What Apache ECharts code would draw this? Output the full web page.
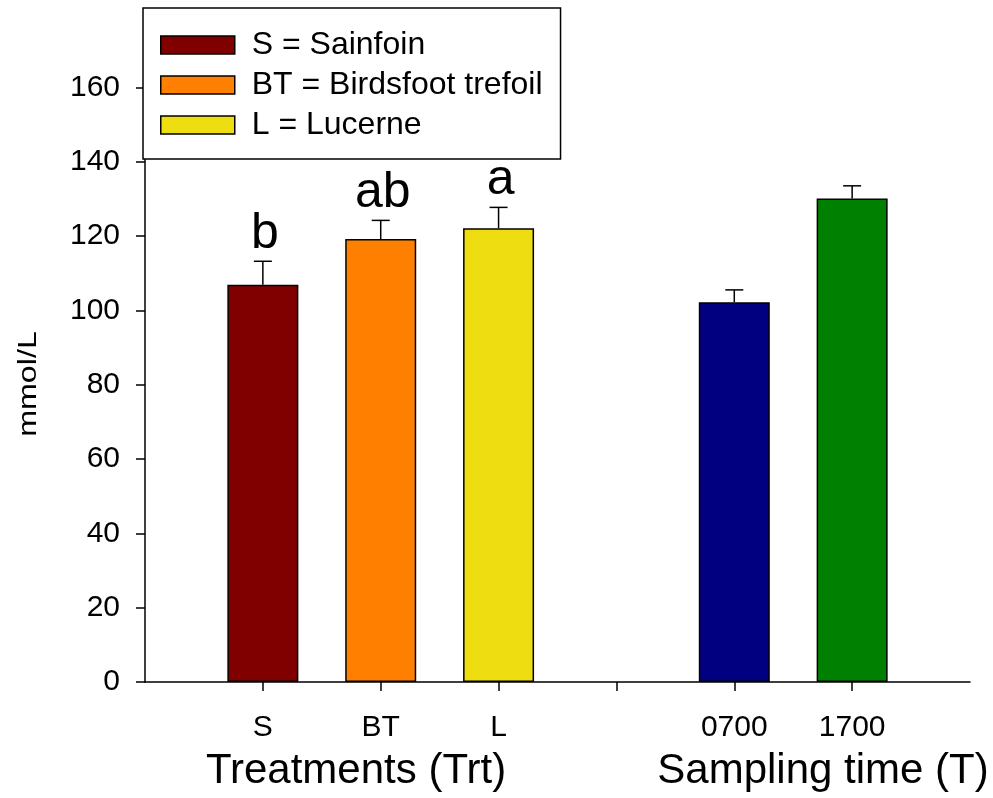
<!DOCTYPE html>
<html>
<head>
<meta charset="utf-8">
<script src="https://cdn.jsdelivr.net/npm/echarts@6/dist/echarts.min.js"></script>
<style>
html,body{margin:0;padding:0;background:#fff;}
#chart{width:993px;height:798px;}
</style>
</head>
<body>
<div id="chart"></div>
<script>
// 处理组 (Trt)
var trtLegend = ['S = Sainfoin', 'BT = Birdsfoot trefoil', 'L = Lucerne'];
var trtPos = [1, 2, 3];
var trtMean = [106.9, 119.2, 122.1];
var trtUpper = [113.2, 124.2, 127.7];
var trtLetters = ['b', 'ab', 'a'];
// 采样时间 (T)
var timePos = [5, 6];
var timeMean = [102.2, 130.1];
var timeUpper = [105.5, 133.5];
// 坐标轴刻度
var xTickPos = [1, 2, 3, 4, 5, 6];
var xLabelPos = [1, 2, 3, 5, 6];
var xLabelText = {1: 'S', 2: 'BT', 3: 'L', 5: '0700', 6: '1700'};
var yTicks = [0, 20, 40, 60, 80, 100, 120, 140, 160];

var trtColors = ['#800000', '#ff8000', '#eedd11'];
var timeColors = ['#000080', '#008000'];
var FONT = 'Liberation Sans';

var chart = echarts.init(document.getElementById('chart'));

var series = [];
for (var i = 0; i < trtLegend.length; i++) {
	series.push({
		name: trtLegend[i],
		type: 'bar',
		barWidth: 71,
		barGap: '-100%',
		itemStyle: {color: trtColors[i], borderColor: '#000', borderWidth: 1.5},
		data: [[trtPos[i], trtMean[i]]]
	});
}
series.push({
	name: 'T',
	type: 'bar',
	barWidth: 71,
	barGap: '-100%',
	data: timePos.map(function (p, k) {
		return {value: [p, timeMean[k]], itemStyle: {color: timeColors[k], borderColor: '#000', borderWidth: 1.5}};
	})
});

// 误差线 + 显著性字母
var errData = [];
for (var j = 0; j < trtPos.length; j++) errData.push([trtPos[j], trtMean[j], trtUpper[j], trtLetters[j]]);
for (var k = 0; k < timePos.length; k++) errData.push([timePos[k], timeMean[k], timeUpper[k], '']);

series.push({
	type: 'custom',
	z: 5,
	data: errData,
	renderItem: function (params, api) {
		var x = api.value(0);
		var p0 = api.coord([x, api.value(1)]);
		var p1 = api.coord([x, api.value(2)]);
		var letter = errData[params.dataIndex][3];
		var lineStyle = {stroke: '#000', lineWidth: 1.5};
		return {
			type: 'group',
			children: [
				{type: 'line', shape: {x1: p0[0], y1: p0[1], x2: p1[0], y2: p1[1]}, style: lineStyle},
				{type: 'line', shape: {x1: p1[0] - 9, y1: p1[1], x2: p1[0] + 9, y2: p1[1]}, style: lineStyle},
				{type: 'text', style: {text: letter, x: p1[0] + 2, y: p1[1] - 2, align: 'center', verticalAlign: 'bottom',
					fontSize: 50, fontFamily: FONT, fill: '#000'}}
			]
		};
	}
});

var option = {
	animation: false,
	backgroundColor: '#fff',
	grid: {left: 145, right: 23, top: 13, bottom: 116, containLabel: false},
	legend: {
		data: trtLegend,
		orient: 'vertical',
		left: 143,
		top: 8,
		padding: [17, 18, 14, 17],
		itemGap: 0,
		itemWidth: 74,
		itemHeight: 18,
		backgroundColor: '#fff',
		borderColor: '#000',
		borderWidth: 1.5,
		borderRadius: 0,
		selectedMode: false,
		z: 10,
		icon: 'rect',
		itemStyle: {borderColor: '#000', borderWidth: 1.5},
		textStyle: {fontSize: 32, fontFamily: FONT, color: '#000', lineHeight: 40, padding: [0, 0, 0, 12]}
	},
	xAxis: {
		type: 'value',
		min: 0,
		max: 7,
		splitLine: {show: false},
		axisLine: {show: true, onZero: false, lineStyle: {color: '#000', width: 1.5}},
		axisTick: {show: true, length: 9, customValues: xTickPos, lineStyle: {color: '#000', width: 1.5}},
		axisLabel: {
			customValues: xLabelPos,
			margin: 31,
			fontSize: 30,
			fontFamily: FONT,
			color: '#000',
			formatter: function (v) { return xLabelText[v] || ''; }
		}
	},
	yAxis: {
		type: 'value',
		min: 0,
		max: 180,
		splitLine: {show: false},
		axisLine: {show: true, lineStyle: {color: '#000', width: 1.5}},
		axisTick: {show: true, length: 9, customValues: yTicks, lineStyle: {color: '#000', width: 1.5}},
		axisLabel: {customValues: yTicks, margin: 25, fontSize: 30, fontFamily: FONT, color: '#000'}
	},
	graphic: [
		{type: 'text', x: 356, y: 771, style: {text: 'Treatments (Trt)', align: 'center', verticalAlign: 'middle',
			fontSize: 42, fontFamily: FONT, fill: '#000'}},
		{type: 'text', x: 823, y: 771, style: {text: 'Sampling time (T)', align: 'center', verticalAlign: 'middle',
			fontSize: 42, fontFamily: FONT, fill: '#000'}},
		{type: 'text', x: 29, y: 384, rotation: Math.PI / 2, scaleX: 1.24,
			style: {text: 'mmol/L', align: 'center', verticalAlign: 'middle', fontSize: 26, fontFamily: FONT, fill: '#000'}}
	],
	series: series
};

chart.setOption(option);
</script>
</body>
</html>
